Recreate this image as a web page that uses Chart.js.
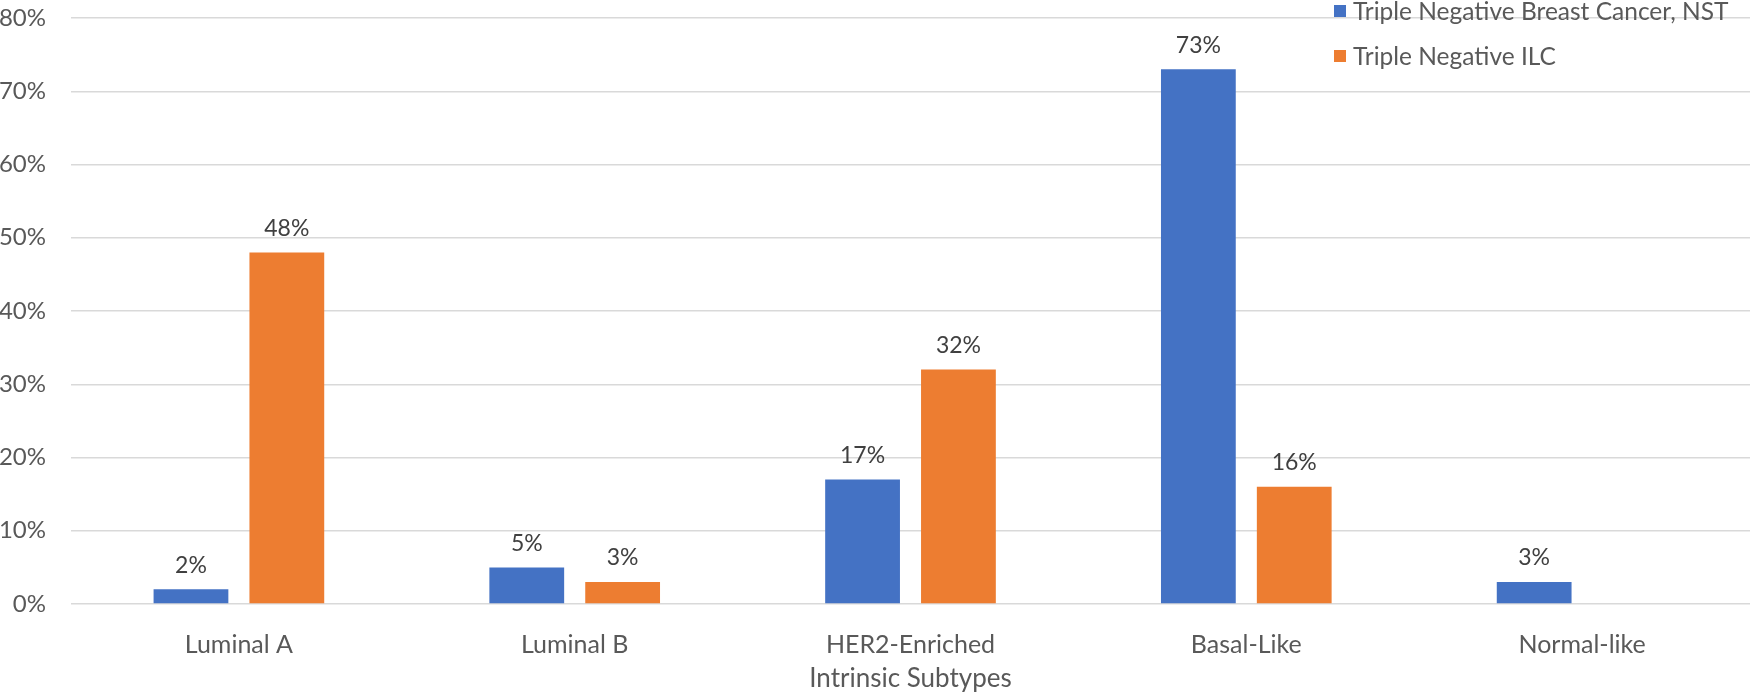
<!DOCTYPE html>
<html>
<head>
<meta charset="utf-8">
<script src="https://cdn.jsdelivr.net/npm/chart.js@4"></script>
<style>
  html, body { margin: 0; padding: 0; background: #fff; }
  #wrap { width: 1750px; height: 694px; }
</style>
</head>
<body>
<div id="wrap"><canvas id="chart"></canvas></div>
<script>
const categories = ['Luminal A', 'Luminal B', 'HER2-Enriched', 'Basal-Like', 'Normal-like'];
const seriesNames = ['Triple Negative Breast Cancer, NST', 'Triple Negative ILC'];
const nstValues = [2, 5, 17, 73, 3];
const ilcValues = [48, 3, 32, 16, null];
const yTicks = [0, 10, 20, 30, 40, 50, 60, 70, 80];

const FONT = 'Lato, "Open Sans", sans-serif';
const GREY = '#595959';

// value labels above each bar
const barLabels = {
    id: 'barLabels',
    afterDatasetsDraw(chart) {
        let ctx = chart.ctx;
        ctx.save();
        ctx.font = '23px ' + FONT;
        ctx.fillStyle = '#404040';
        ctx.textAlign = 'center';
        ctx.textBaseline = 'middle';
        chart.data.datasets.forEach((ds, i) => {
            chart.getDatasetMeta(i).data.forEach((bar, j) => {
                if (ds.data[j] === null) return;
                ctx.fillText(ds.data[j] + '%', bar.x, bar.y - 24);
            });
        });
        ctx.restore();
    }
};

// stacked legend in the top right corner, over the plot
const cornerLegend = {
    id: 'cornerLegend',
    afterDraw(chart) {
        let ctx = chart.ctx;
        ctx.save();
        ctx.font = '24.5px ' + FONT;
        ctx.textBaseline = 'middle';
        chart.data.datasets.forEach((ds, i) => {
            let y = 11 + i * 45;
            ctx.fillStyle = ds.backgroundColor;
            ctx.fillRect(1334, y - 6, 12, 12);
            ctx.fillStyle = GREY;
            ctx.fillText(ds.label, 1353, y + 1);
        });
        ctx.restore();
    }
};

new Chart(document.getElementById('chart'), {
    type: 'bar',
    data: {
        labels: categories,
        datasets: [
            { label: seriesNames[0], data: nstValues, backgroundColor: '#4472C4' },
            { label: seriesNames[1], data: ilcValues, backgroundColor: '#ED7D31' }
        ]
    },
    options: {
        responsive: true,
        maintainAspectRatio: false,
        animation: false,
        categoryPercentage: 0.571,
        barPercentage: 0.78,
        layout: { padding: { top: 18, right: 0, left: 0, bottom: 0 } },
        plugins: {
            legend: { display: false },
            tooltip: { enabled: false }
        },
        scales: {
            x: {
                grid: { display: false },
                border: { display: false },
                ticks: { color: GREY, font: { family: FONT, size: 25 }, padding: 18 },
                title: {
                    display: true,
                    text: 'Intrinsic Subtypes',
                    color: GREY,
                    font: { family: FONT, size: 26 },
                    padding: { top: 10, bottom: 0 }
                },
                afterFit(scale) { scale.height = 90; }
            },
            y: {
                min: 0,
                max: 80,
                afterBuildTicks(scale) { scale.ticks = yTicks.map(v => ({ value: v })); },
                grid: { color: '#d9d9d9', lineWidth: 1.5, drawTicks: false },
                border: { display: false },
                ticks: {
                    color: GREY,
                    font: { family: FONT, size: 24 },
                    padding: 25,
                    callback: v => v + '%'
                },
                afterFit(scale) {
                    scale.width = 71;
                    scale.paddingTop = 0;
                    scale.paddingBottom = 0;
                }
            }
        }
    },
    plugins: [barLabels, cornerLegend]
});
</script>
</body>
</html>
